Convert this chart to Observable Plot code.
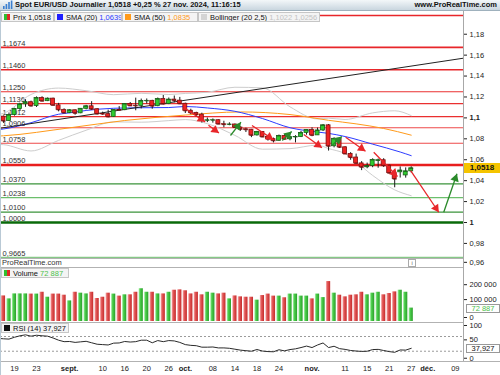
<!DOCTYPE html>
<html lang="fr">
<head>
<meta charset="utf-8">
<title>Spot EUR/USD</title>
<script src="https://cdn.jsdelivr.net/npm/d3@7"></script>
<script src="https://cdn.jsdelivr.net/npm/@observablehq/plot@0.6"></script>
<style>
html,body{margin:0;padding:0;background:#fff;}
#root{position:relative;width:500px;height:375px;overflow:hidden;font-family:"Liberation Sans",Arial,Helvetica,sans-serif;color:#111;}
.abs{position:absolute;}
#root svg{display:block;}
#hdr{position:absolute;left:0;top:0;width:500px;height:11px;background:linear-gradient(#f3f7f9,#c9d6df);border-bottom:1px solid #9fb1bd;box-sizing:border-box;font-weight:bold;font-size:7.5px;line-height:10px;white-space:nowrap;z-index:6;}
#hdr .t{position:absolute;left:15px;top:0;}
#hdr .r{position:absolute;right:3px;top:0;}
.lg{position:absolute;display:flex;align-items:center;height:10px;box-sizing:border-box;border:1px solid #c6c6c6;background:#f4f4f4;font-size:7.5px;white-space:nowrap;padding-left:2px;z-index:6;overflow:hidden;}
.ic{display:inline-block;width:6px;height:6px;margin-right:3px;flex:none;}
.two{background:linear-gradient(90deg,#2fbf2f 50%,#e02828 50%);}
.vb{position:absolute;box-sizing:border-box;font-size:7.5px;line-height:8px;text-align:center;z-index:6;}
.ln{position:absolute;background:#b2b2b2;z-index:5;}
</style>
</head>
<body>
<div id="root"></div>
<script>
// ---------------- DATA ----------------
// trading-day index 0 = 19 Aug 2024; candles start at index -2 (15 Aug)
const firstDay = -2;
const opens  = [1.1012,1.0970,1.1027,1.1086,1.1130,1.1150,1.1114,1.1190,1.1160,1.1184,
                1.1120,1.1077,1.1047,1.1073,1.1044,1.1087,1.1111,1.1083,1.1038,1.1036,
                1.1010,1.1075,1.1074,1.1133,1.1117,1.1115,1.1162,1.1163,1.1112,1.1180,
                1.1133,1.1175,1.1165,1.1135,1.1068,1.1048,1.1031,1.0975,1.0977,1.0978,
                1.0940,1.0936,1.0937,1.0908,1.0891,1.0887,1.0833,1.0866,1.0817,1.0797,
                1.0781,1.0828,1.0796,1.0816,1.0818,1.0856,1.0884,1.0833,1.0880,1.0929,
                1.0729,1.0800,1.0719,1.0655,1.0621,1.0565,1.0528,1.0540,1.0590,1.0595,
                1.0543,1.0472,1.0480,1.0450,1.0489];
const highs  = [1.1018,1.1047,1.1092,1.1133,1.1174,1.1160,1.1201,1.1202,1.1190,1.1189,
                1.1139,1.1086,1.1078,1.1076,1.1089,1.1120,1.1155,1.1088,1.1055,1.1074,
                1.1077,1.1108,1.1137,1.1147,1.1189,1.1180,1.1181,1.1168,1.1190,1.1214,
                1.1190,1.1209,1.1196,1.1141,1.1083,1.1054,1.1045,1.0999,1.0990,1.0981,
                1.0968,1.0953,1.0941,1.0915,1.0902,1.0890,1.0871,1.0868,1.0833,1.0807,
                1.0836,1.0839,1.0823,1.0830,1.0871,1.0885,1.0905,1.0903,1.0937,1.0937,
                1.0810,1.0806,1.0724,1.0668,1.0654,1.0582,1.0568,1.0609,1.0607,1.0610,
                1.0550,1.0496,1.0531,1.0522,1.0532];
const lows   = [1.0948,1.0968,1.1017,1.1062,1.1101,1.1103,1.1100,1.1153,1.1156,1.1115,
                1.1058,1.1041,1.1041,1.1026,1.1040,1.1077,1.1072,1.1027,1.1025,1.1001,
                1.1004,1.1068,1.1069,1.1114,1.1068,1.1086,1.1132,1.1083,1.1107,1.1123,
                1.1127,1.1144,1.1127,1.1042,1.1031,1.1004,1.0951,1.0955,1.0950,1.0936,
                1.0906,1.0925,1.0905,1.0872,1.0860,1.0811,1.0826,1.0812,1.0778,1.0761,
                1.0777,1.0788,1.0781,1.0761,1.0812,1.0835,1.0820,1.0833,1.0870,1.0683,
                1.0714,1.0708,1.0650,1.0595,1.0560,1.0496,1.0514,1.0524,1.0519,1.0527,
                1.0462,1.0332,1.0425,1.0424,1.0473];
const closes = [1.0970,1.1027,1.1086,1.1130,1.1150,1.1114,1.1190,1.1160,1.1184,1.1120,
                1.1077,1.1047,1.1073,1.1044,1.1087,1.1111,1.1083,1.1038,1.1036,1.1010,
                1.1075,1.1074,1.1133,1.1115,1.1115,1.1162,1.1163,1.1112,1.1180,1.1133,
                1.1175,1.1165,1.1135,1.1068,1.1048,1.1031,1.0975,1.0977,1.0978,1.0940,
                1.0936,1.0937,1.0908,1.0891,1.0887,1.0833,1.0866,1.0817,1.0797,1.0781,
                1.0828,1.0796,1.0816,1.0818,1.0856,1.0884,1.0833,1.0880,1.0929,1.0729,
                1.0800,1.0719,1.0655,1.0621,1.0565,1.0528,1.0540,1.0598,1.0595,1.0543,
                1.0472,1.0415,1.0497,1.0489,1.0518];
// volume in thousands
const volumesK = [139,123,150,150,150,149,149,159,132,149,
                  149,143,112,159,154,150,159,125,132,154,
                  149,138,145,145,159,178,159,159,150,150,
                  159,170,172,167,150,159,145,159,154,150,
                  154,123,139,134,132,132,116,141,149,138,
                  138,129,149,149,138,138,123,149,130,217,
                  154,143,134,143,145,159,145,154,159,145,
                  152,161,170,159,72.887];
// RSI(14), starting at index -3
const rsiFirst = -3;
const rsiValues = [65,63.8,63,68,72,74.6,71,73.5,72,71,66,60,56,56.5,54,55.5,57,53,49,48,47,52,52.5,56.5,55,56,
                   60,60,53,59,56,59,58,54,48,46,45,41,41,41.5,39,39,38,35.5,33,31.5,30,34.7,30.5,29,28.5,34,
                   31,34.5,36.5,40,44,40,47,52.5,40,43.5,37,35,32,30.5,29.5,30,34.5,35,32,29,27,33.5,33,37.927];
// moving averages and Bollinger bands, read at sample days
const sma20Idx = [-3,-2,3,8,10,13,18,23,28,31,35,40,45,50,55,57,60,65,70,72];
const sma20Val = [1.0888,1.0894,1.0954,1.1035,1.1048,1.1071,1.1092,1.1097,1.1099,1.1109,1.1095,1.1063,1.0994,1.0906,1.0865,1.0852,1.0822,1.0749,1.0674,1.0639];
const sma50Idx = [-3,-2,10,20,31,41,50,54,57,62,67,72];
const sma50Val = [1.0826,1.0829,1.0905,1.0975,1.1027,1.1057,1.1032,1.1002,1.0977,1.0943,1.0899,1.0835];
const bollIdx   = [-3,-2,3,8,13,18,23,28,31,35,40,45,50,55,57,60,65,69,72];
const bollUpper = [1.1030,1.1044,1.1224,1.1285,1.1260,1.1222,1.1235,1.1224,1.1234,1.1245,1.1293,1.1287,1.1106,1.0990,1.0997,1.0985,1.1048,1.1068,1.1022];
const bollLower = [1.0746,1.0744,1.0684,1.0785,1.0882,1.0962,1.0959,1.0974,1.0984,1.0945,1.0833,1.0701,1.0706,1.0740,1.0707,1.0659,1.0450,1.0312,1.0256];
// horizontal support / resistance levels
const levelValues = [1.1980,1.1674,1.1460,1.1250,1.1136,1.1012,1.0906,1.0758,1.0550,1.0370,1.0238,1.0100,1.0000,0.9665];
const levelLabels = ["","1,1674","1,1460","1,1250","1,1136","1,1012","1,0906","1,0758","1,0550","1,0370","1,0238","1,0100","1,0000","0,9665"];
// long trend line
const trendIdx = [-3, 82];
const trendVal = [1.0898, 1.1575];
// drawn arrows: start (index, price) -> end (index, price)
const redArrI1 = [31.0,35.2,43.1,52.5,60.1,65.2,71.9];
const redArrV1 = [1.1090,1.0930,1.0927,1.0841,1.0815,1.0672,1.0497];
const redArrI2 = [34.6,37.1,47.0,55.8,63.7,69.5,77.0];
const redArrV2 = [1.0962,1.0855,1.0792,1.0714,1.0682,1.0440,1.0098];
const greenArrI1 = [39.2,48.6,57.6,77.9];
const greenArrV1 = [1.0832,1.0784,1.0736,1.0098];
const greenArrI2 = [41.1,50.3,59.4,80.3];
const greenArrV2 = [1.0959,1.0870,1.0822,1.0466];
// axes
const priceTicks = [0.98,1,1.02,1.04,1.06,1.08,1.1,1.12,1.14,1.16,1.18];
const priceTicksBold = [1,1.1];
const priceTickLow = [0.96];
const volTicks = [100000,200000];
const rsiTicks = [100,50];
const rsiLevels = [70,30];
const dayTickIdx    = [0,4,10,16,20,24,28,31,36,40,44,48,54,60,64,68,72,75,80];
const dayTickLabels = ["19","23","sept.","10","16","20","26","oct.","08","14","18","24","nov.","11","15","21","27","déc.","09"];
const monthLabels = ["sept.","oct.","nov.","déc."];
// header values
const lastPrice = 1.0518, lastVolume = 72887, lastRsi = 37.927;
const lastSma20 = 1.0639, lastSma50 = 1.0835, lastBollUp = 1.1022, lastBollLow = 1.0256;
const titleText = "Spot EUR/USD Journalier";
const changeText = "+0,25 %";
const dateText = "27 nov. 2024, 11:16:15";

// ---------------- LAYOUT / STYLE ----------------
const W = 500, PLOT_RIGHT = 463;
const X_DOMAIN = [-2.5408, 81.488];
const MAIN_TOP = 11, MAIN_H = 256, MAIN_Y_DOMAIN = [0.956979, 1.201721];
const VOL_TOP = 267, VOL_H = 55, VOL_Y_DOMAIN = [0, 293500];
const RSI_TOP = 322, RSI_H = 53, RSI_Y_DOMAIN = [2.04, 108.16];
const RED = "#e8262a", GREEN = "#2a8a2a";
const levelColors = ["#e8262a","#e8262a","#e8262a","#ea3030","#ea3030","#ea3030","#ee4a4a","#ee4a4a","#e81e1e","#3b933b","#6cbf6c","#3b933b","#0a6a0a","#86c886"];
const levelWidths = [1.5,1.6,1.6,1.1,1.1,1.1,1.1,1.1,2.6,1.2,1.1,1.2,2.6,1.6];
const HALF_BODY = 0.36, HALF_BAR = 0.38;
const plotStyle = {fontFamily: "'Liberation Sans', Arial, sans-serif", fontSize: "7.5px", background: "transparent", color: "#222"};

const fmt4 = v => v.toFixed(4).replace(".", ",");
const fmtPrice = d => String(+d.toFixed(2)).replace(".", ",");
const fmtVol = d => d3.format(",")(Math.round(d)).replace(/,/g, " ");
const dayLabel = d => dayTickLabels[dayTickIdx.indexOf(d)];

// ---------------- TABLES ----------------
const candles = opens.map((o, k) => ({i: firstDay + k, o, h: highs[k], l: lows[k], c: closes[k], vol: volumesK[k] * 1000}));
const up = candles.filter(d => d.c >= d.o), down = candles.filter(d => d.c < d.o);
const rsiData = rsiValues.map((r, k) => ({i: rsiFirst + k, r}));
const sma20 = sma20Idx.map((i, k) => ({i, v: sma20Val[k]}));
const sma50 = sma50Idx.map((i, k) => ({i, v: sma50Val[k]}));
const bUp = bollIdx.map((i, k) => ({i, v: bollUpper[k]}));
const bLo = bollIdx.map((i, k) => ({i, v: bollLower[k]}));
const trend = trendIdx.map((i, k) => ({i, v: trendVal[k]}));
const levels = levelValues.map((v, k) => ({v, t: levelLabels[k]}));
const arrows = [
  ...redArrI1.map((i1, k) => ({i1, v1: redArrV1[k], i2: redArrI2[k], v2: redArrV2[k], c: RED})),
  ...greenArrI1.map((i1, k) => ({i1, v1: greenArrV1[k], i2: greenArrI2[k], v2: greenArrV2[k], c: GREEN}))
];

// arrowhead placement through Plot scales
const xS = Plot.scale({x: {domain: X_DOMAIN, range: [0, PLOT_RIGHT]}});
const yS = Plot.scale({y: {domain: MAIN_Y_DOMAIN, range: [MAIN_H, 0]}});
const HEAD_R = 3.2;
const tipOff = 2 * Math.sqrt(Math.PI * HEAD_R * HEAD_R / (3 * Math.sqrt(3)));
const heads = arrows.map(a => {
  const x1 = xS.apply(a.i1), y1 = yS.apply(a.v1), x2 = xS.apply(a.i2), y2 = yS.apply(a.v2);
  const dx = x2 - x1, dy = y2 - y1, L = Math.hypot(dx, dy);
  const cx = x2 - dx / L * tipOff, cy = y2 - dy / L * tipOff;
  return {i: xS.invert(cx), v: yS.invert(cy), rot: Math.atan2(dx, -dy) * 180 / Math.PI, c: a.c};
});

const axisOpts = {anchor: "right", tickSize: 3, tickPadding: 3, label: null, fontSize: 7.5};

// ---------------- MAIN PRICE PANEL ----------------
const mainPlot = Plot.plot({
  width: W, height: MAIN_H, marginLeft: 0, marginRight: W - PLOT_RIGHT, marginTop: 0, marginBottom: 0,
  style: plotStyle,
  x: {domain: X_DOMAIN, axis: null, label: null},
  y: {domain: MAIN_Y_DOMAIN, label: null},
  marks: [
    ...levels.map((d, k) => Plot.ruleY([d.v], {stroke: levelColors[k], strokeWidth: levelWidths[k]})),
    Plot.text(levels, {y: "v", text: "t", frameAnchor: "left", textAnchor: "start", dx: 2, dy: -4, fill: "#333", fontSize: 7.5}),
    Plot.line(bUp, {x: "i", y: "v", stroke: "#cdcdcd", strokeWidth: 1, curve: "monotone-x"}),
    Plot.line(bLo, {x: "i", y: "v", stroke: "#cdcdcd", strokeWidth: 1, curve: "monotone-x"}),
    Plot.line(sma50, {x: "i", y: "v", stroke: "#ff9a1a", strokeWidth: 1, curve: "monotone-x"}),
    Plot.line(sma20, {x: "i", y: "v", stroke: "#2d3cff", strokeWidth: 1, curve: "monotone-x"}),
    Plot.line(trend, {x: "i", y: "v", stroke: "#222", strokeWidth: 1, clip: true}),
    Plot.ruleX(candles, {x: "i", y1: "l", y2: "h", stroke: "#1a1a1a", strokeWidth: 1}),
    Plot.rect(up, {x1: d => d.i - HALF_BODY, x2: d => d.i + HALF_BODY, y1: "o", y2: "c", fill: "#2ecc2e", stroke: "#1b5e1b", strokeWidth: 0.8}),
    Plot.rect(down, {x1: d => d.i - HALF_BODY, x2: d => d.i + HALF_BODY, y1: "o", y2: "c", fill: "#ee2222", stroke: "#7a1010", strokeWidth: 0.8}),
    Plot.link(candles, {x1: d => d.i - HALF_BODY, x2: d => d.i + HALF_BODY, y1: "c", y2: "c", stroke: d => d.c >= d.o ? "#1b5e1b" : "#7a1010", strokeWidth: 0.9}),
    Plot.link(arrows, {x1: "i1", y1: "v1", x2: "i2", y2: "v2", stroke: "c", strokeWidth: 1.3}),
    Plot.dot(heads, {x: "i", y: "v", symbol: "triangle", r: HEAD_R, rotate: "rot", fill: "c", stroke: "none"}),
    Plot.axisY(priceTicks.filter(t => !priceTicksBold.includes(t)), {...axisOpts, tickFormat: fmtPrice}),
    Plot.axisY(priceTicksBold, {...axisOpts, tickFormat: fmtPrice, fontWeight: "bold"}),
    Plot.axisY(priceTickLow, {...axisOpts, tickFormat: fmtPrice, dy: -2})
  ],
  color: {type: "identity"}
});

// ---------------- VOLUME PANEL ----------------
const volPlot = Plot.plot({
  width: W, height: VOL_H, marginLeft: 0, marginRight: W - PLOT_RIGHT, marginTop: 0, marginBottom: 1,
  style: plotStyle,
  x: {domain: X_DOMAIN, axis: null, label: null},
  y: {domain: VOL_Y_DOMAIN, label: null},
  marks: [
    Plot.rect(up, {x1: d => d.i - HALF_BAR, x2: d => d.i + HALF_BAR, y1: () => 0, y2: "vol", fill: "url(#volG)"}),
    Plot.rect(down, {x1: d => d.i - HALF_BAR, x2: d => d.i + HALF_BAR, y1: () => 0, y2: "vol", fill: "url(#volR)"}),
    Plot.axisY([volTicks[1]], {...axisOpts, tickFormat: fmtVol}),
    Plot.axisY([volTicks[0]], {...axisOpts, tickFormat: fmtVol, dy: -3.5}),
    Plot.axisY([0], {...axisOpts, dy: -4, tickFormat: fmtVol})
  ]
});
(function addGradients(svg) {
  const ns = "http://www.w3.org/2000/svg";
  const defs = document.createElementNS(ns, "defs");
  [["volG", "#b4f0b4", "#4ccf4c", "#2a9e2a"], ["volR", "#f4b4b4", "#e45a5a", "#c42a2a"]].forEach(([id, a, b, c]) => {
    const g = document.createElementNS(ns, "linearGradient");
    g.setAttribute("id", id); g.setAttribute("x1", "0"); g.setAttribute("x2", "1"); g.setAttribute("y1", "0"); g.setAttribute("y2", "0");
    [[0, a], [0.35, b], [1, c]].forEach(([o, col]) => {
      const s = document.createElementNS(ns, "stop");
      s.setAttribute("offset", o); s.setAttribute("stop-color", col); g.appendChild(s);
    });
    defs.appendChild(g);
  });
  svg.insertBefore(defs, svg.firstChild);
})(volPlot);

// ---------------- RSI PANEL + DATE AXIS ----------------
const rsiPlot = Plot.plot({
  width: W, height: RSI_H, marginLeft: 0, marginRight: W - PLOT_RIGHT, marginTop: 0, marginBottom: 14,
  style: plotStyle,
  x: {domain: X_DOMAIN, label: null},
  y: {domain: RSI_Y_DOMAIN, label: null},
  marks: [
    Plot.ruleY(rsiLevels, {stroke: "#9a9a9a", strokeWidth: 1, strokeDasharray: "2,2"}),
    Plot.line(rsiData, {x: "i", y: "r", stroke: "#2a2a2a", strokeWidth: 1}),
    Plot.axisY([rsiTicks[0]], axisOpts),
    Plot.axisY([rsiTicks[1]], {...axisOpts, dy: -4}),
    Plot.axisY([0], {...axisOpts, dy: -4}),
    Plot.axisX(dayTickIdx.filter(d => !monthLabels.includes(dayLabel(d))), {anchor: "bottom", tickSize: 0, tickPadding: 4, tickFormat: dayLabel, label: null, fontSize: 7.5}),
    Plot.axisX(dayTickIdx.filter(d => monthLabels.includes(dayLabel(d))), {anchor: "bottom", tickSize: 0, tickPadding: 4, tickFormat: dayLabel, label: null, fontSize: 7.5, fontWeight: "bold"})
  ]
});

// ---------------- ASSEMBLY ----------------
const root = document.getElementById("root");
function place(node, top) {
  const w = document.createElement("div");
  w.className = "abs"; w.style.left = "0px"; w.style.top = top + "px";
  w.appendChild(node); root.appendChild(w); return w;
}
function div(cls, style, html) {
  const d = document.createElement("div");
  d.className = cls; Object.assign(d.style, style);
  if (html != null) d.innerHTML = html;
  root.appendChild(d); return d;
}
place(mainPlot, MAIN_TOP);
place(volPlot, VOL_TOP);
place(rsiPlot, RSI_TOP);

// panel separators and borders
div("ln", {left: "0px", top: "258px", width: PLOT_RIGHT + "px", height: "9px", background: "#fff", borderTop: "1px solid #b2b2b2", boxSizing: "border-box"},
    '<span style="position:absolute;left:2px;top:0px;font-size:7.5px;line-height:8px;color:#333">ProRealTime.com</span>' +
    '<span style="position:absolute;left:408px;top:0px;width:6px;height:6px;border:1px solid #aaa;font-size:5.5px;line-height:6px;text-align:center;color:#555">i</span>');
div("ln", {left: "0px", top: VOL_TOP + "px", width: PLOT_RIGHT + "px", height: "1px"});
div("ln", {left: "0px", top: RSI_TOP + "px", width: PLOT_RIGHT + "px", height: "1px"});
div("ln", {left: "0px", top: "361px", width: W + "px", height: "1px"});
div("ln", {left: PLOT_RIGHT + "px", top: "11px", width: "1px", height: "350px", background: "#a8a8a8"});
div("ln", {left: "0px", top: "11px", width: "1px", height: "364px", background: "#b9c9d5"});

// header
const hdr = document.createElement("div");
hdr.id = "hdr";
hdr.innerHTML =
  '<svg width="11" height="10" style="position:absolute;left:2px;top:0px">' +
  '<rect x="1" y="6" width="1.6" height="3" fill="#3a7fd0"/><rect x="3.6" y="4" width="1.6" height="5" fill="#3a7fd0"/>' +
  '<rect x="6.2" y="2" width="1.6" height="7" fill="#3a7fd0"/><rect x="8.8" y="0.5" width="1.6" height="8.5" fill="#3a7fd0"/></svg>' +
  `<span class="t">${titleText} ${fmt4(lastPrice)} ${changeText} ${dateText}</span>` +
  '<span class="r">www.ProRealTime.com</span>';
root.appendChild(hdr);

// legend boxes
function legend(left, top, width, html) {
  return div("lg", {left: left + "px", top: top + "px", width: width + "px"}, html);
}
legend(1, 12, 53, `<span class="ic two"></span>Prix ${fmt4(lastPrice)}`);
legend(54, 12, 68, `<span class="ic" style="background:#1f1fff"></span>SMA (20)&nbsp;<span style="color:#2d3cff">${fmt4(lastSma20)}</span>`);
legend(122, 12, 76, `<span class="ic" style="background:#ff9a1a"></span>SMA (50)&nbsp;<span style="color:#ff9a1a">${fmt4(lastSma50)}</span>`);
legend(198, 12, 122, `<span class="ic" style="background:#d4d4d4"></span>Bollinger (20 2,5)&nbsp;<span style="color:#c2c2c2">${fmt4(lastBollUp)} ${fmt4(lastBollLow)}</span>`);
legend(1, VOL_TOP + 1, 68, `<span class="ic two"></span>Volume&nbsp;<span style="color:#4cc24c">${fmtVol(lastVolume)}</span>`);
legend(1, RSI_TOP + 1, 68, `<span class="ic" style="background:#111"></span>RSI (14)&nbsp;${lastRsi.toFixed(3).replace(".", ",")}`);

// last-value boxes on the right axes (positions from the plots' scales)
const yPrice = MAIN_TOP + mainPlot.scale("y").apply(lastPrice);
div("vb", {left: "464px", top: (yPrice - 5) + "px", width: "36px", height: "10px", background: "#f5c400", fontWeight: "bold", fontSize: "8px", lineHeight: "10px"}, fmt4(lastPrice));
const yVol = VOL_TOP + volPlot.scale("y").apply(lastVolume);
div("vb", {left: "466px", top: (yVol - 3.5) + "px", width: "34px", height: "9px", background: "#fff", border: "1px solid #999", color: "#4cc24c"}, fmtVol(lastVolume));
const yRsi = RSI_TOP + rsiPlot.scale("y").apply(lastRsi);
div("vb", {left: "466px", top: (yRsi - 3.5) + "px", width: "34px", height: "9px", background: "#fff", border: "1px solid #999", color: "#111"}, lastRsi.toFixed(3).replace(".", ","));
</script>
</body>
</html>
